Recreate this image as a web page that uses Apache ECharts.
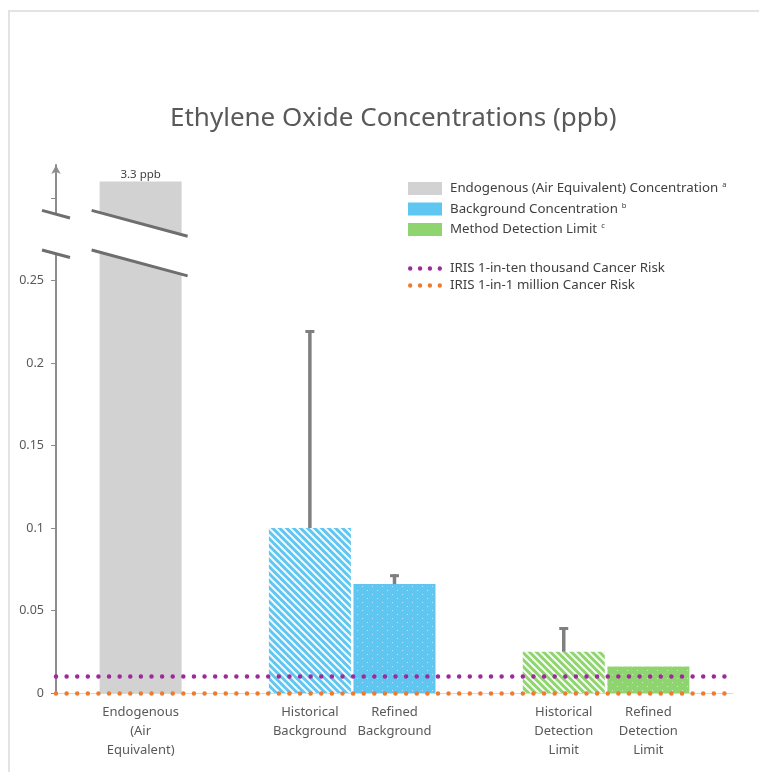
<!DOCTYPE html>
<html>
<head>
<meta charset="utf-8">
<script src="https://cdn.jsdelivr.net/npm/echarts@6/dist/echarts.min.js"></script>
</head>
<body style="margin:0;background:#fff">
<div id="container" style="width:759px;height:772px"></div>
<script>
// data (ppb)
var categories = ['', 'Endogenous\n(Air\nEquivalent)', '', 'Historical\nBackground', 'Refined\nBackground', '', 'Historical\nDetection\nLimit', 'Refined\nDetection\nLimit', ''];
var endogenous = [null, 3.3, null, null, null, null, null, null, null];
var background = [null, null, null, 0.1, 0.066, null, null, null, null];
var detection = [null, null, null, null, null, null, 0.025, 0.016, null];
var errorTop = [null, null, null, 0.22, 0.072, null, 0.04, null, null];
var iris1in10k = 0.011;
var iris1in1m = 0.0001;
var yTicks = [0, 0.05, 0.1, 0.15, 0.2, 0.25, 0.3];
var yLabels = [0, 0.05, 0.1, 0.15, 0.2, 0.25];
var breakTop = 0.31; // the endogenous bar is drawn cut off here (broken axis)

var GRAY = '#d2d2d2', BLUE = '#5fc6f1', GREEN = '#8fd56f';
var PURPLE = '#9c2a9a', ORANGE = '#ef7b30';

function stripes(color) {
    var c = document.createElement('canvas');
    c.width = 7; c.height = 7;
    var g = c.getContext('2d');
    g.fillStyle = color; g.fillRect(0, 0, 7, 7);
    g.strokeStyle = 'rgba(255,255,255,0.9)'; g.lineWidth = 2;
    for (var k = -1; k <= 1; k++) {
        g.beginPath(); g.moveTo(k * 7 - 1, -1); g.lineTo(k * 7 + 8, 8); g.stroke();
    }
    return { image: c, repeat: 'repeat' };
}
function dots(color) {
    var c = document.createElement('canvas');
    c.width = 10; c.height = 8;
    var g = c.getContext('2d');
    g.fillStyle = color; g.fillRect(0, 0, 10, 8);
    g.fillStyle = 'rgba(255,255,255,0.55)';
    g.fillRect(2, 2, 1, 1); g.fillRect(7, 6, 1, 1);
    return { image: c, repeat: 'repeat' };
}
function withPattern(values, color) {
    return values.map(function (v, i) {
        if (v == null) return null;
        var lab = categories[i];
        if (lab.indexOf('Historical') === 0) return { value: v, itemStyle: { color: stripes(color) } };
        if (lab.indexOf('Refined') === 0) return { value: v, itemStyle: { color: dots(color) } };
        return v;
    });
}
var errData = [];
errorTop.forEach(function (hi, i) {
    if (hi == null) return;
    var lo = background[i] != null ? background[i] : detection[i];
    errData.push([i, lo, hi]);
});

var sup = {
    'Endogenous (Air Equivalent) Concentration': 'a',
    'Background Concentration': 'b',
    'Method Detection Limit': 'c'
};
var dotIcon = 'path://M0,2a2,2 0 1,0 4,0a2,2 0 1,0 -4,0M9,2a2,2 0 1,0 4,0a2,2 0 1,0 -4,0M18,2a2,2 0 1,0 4,0a2,2 0 1,0 -4,0M27,2a2,2 0 1,0 4,0a2,2 0 1,0 -4,0';
var legendText = {
    color: '#404040', fontFamily: 'Noto Sans', fontSize: 13.3, padding: [0, 0, 0, 3],
    rich: {
        n: { color: '#404040', fontFamily: 'Noto Sans', fontSize: 13.3 },
        s: { color: '#404040', fontFamily: 'Noto Sans', fontSize: 7.5, padding: [0, 0, 7, 4] }
    }
};

var dom = document.getElementById('container');
var myChart = echarts.init(dom);
var option = {
    animation: false,
    title: {
        text: 'Ethylene Oxide Concentrations (ppb)',
        left: 165, top: 101,
        textStyle: { color: '#595959', fontFamily: 'Noto Sans', fontSize: 26, fontWeight: 'normal' }
    },
    legend: [{
        orient: 'vertical', left: 403, top: 176, itemWidth: 34, itemHeight: 13, itemGap: 6.5,
        icon: 'rect',
        data: ['Endogenous (Air Equivalent) Concentration', 'Background Concentration', 'Method Detection Limit'],
        formatter: function (name) { return '{n|' + name + '}{s|' + sup[name] + '}'; },
        textStyle: legendText, selectedMode: false
    }, {
        orient: 'vertical', left: 403, top: 257, itemWidth: 34, itemHeight: 5, itemGap: 4,
        data: [
            { name: 'IRIS 1-in-ten thousand Cancer Risk', icon: dotIcon, itemStyle: { color: PURPLE, borderWidth: 0 } },
            { name: 'IRIS 1-in-1 million Cancer Risk', icon: dotIcon, itemStyle: { color: ORANGE, borderWidth: 0 } }
        ],
        textStyle: { color: '#404040', fontFamily: 'Noto Sans', fontSize: 13.3, padding: [0, 0, 0, 3] },
        selectedMode: false
    }],
    grid: { left: 56, right: 26, top: 165, bottom: 79 },
    xAxis: {
        type: 'category', data: categories, boundaryGap: false,
        axisLine: { lineStyle: { color: '#d9d9d9', width: 1 } },
        axisTick: { show: false },
        axisLabel: { color: '#595959', fontFamily: 'Noto Sans', fontSize: 13, lineHeight: 19, margin: 10, interval: 0 }
    },
    yAxis: {
        type: 'value', min: 0, max: 0.32, interval: 0.05,
        splitLine: { show: false },
        axisLine: { show: true, symbol: ['none', 'arrow'], symbolSize: [7, 9], lineStyle: { color: '#8c8c8c', width: 2 } },
        axisTick: { show: true, length: 5, customValues: yTicks, lineStyle: { color: '#8c8c8c', width: 1 } },
        axisLabel: { customValues: yLabels, color: '#595959', fontFamily: 'Noto Sans', fontSize: 12.5, margin: 12 }
    },
    series: [{
        name: 'Endogenous (Air Equivalent) Concentration', type: 'bar', barWidth: 82, barGap: '-100%',
        itemStyle: { color: GRAY },
        data: endogenous.map(function (v) { return v == null ? null : Math.min(v, breakTop); }),
        label: {
            show: true, position: 'top', distance: 1, color: '#404040', fontFamily: 'Noto Sans', fontSize: 11.5,
            formatter: function (p) { return endogenous[p.dataIndex] + ' ppb'; }
        }
    }, {
        name: 'Background Concentration', type: 'bar', barWidth: 82, barGap: '-100%',
        itemStyle: { color: BLUE }, data: withPattern(background, BLUE)
    }, {
        name: 'Method Detection Limit', type: 'bar', barWidth: 82, barGap: '-100%',
        itemStyle: { color: GREEN }, data: withPattern(detection, GREEN)
    }, {
        type: 'custom', data: errData, z: 3,
        renderItem: function (params, api) {
            var p0 = api.coord([api.value(0), api.value(1)]);
            var p1 = api.coord([api.value(0), api.value(2)]);
            return { type: 'group', children: [
                { type: 'line', shape: { x1: p0[0], y1: p0[1], x2: p1[0], y2: p1[1] }, style: { stroke: '#7f7f7f', lineWidth: 3.5 } },
                { type: 'line', shape: { x1: p1[0] - 4.5, y1: p1[1] + 1.5, x2: p1[0] + 4.5, y2: p1[1] + 1.5 }, style: { stroke: '#7f7f7f', lineWidth: 3 } }
            ] };
        }
    }, {
        name: 'IRIS 1-in-ten thousand Cancer Risk', type: 'line', data: [], z: 4,
        itemStyle: { color: PURPLE },
        markLine: {
            silent: true, symbol: 'none', label: { show: false },
            lineStyle: { color: PURPLE, width: 4.5, type: [0.01, 10.6], cap: 'round' },
            data: [{ yAxis: iris1in10k }]
        }
    }, {
        name: 'IRIS 1-in-1 million Cancer Risk', type: 'line', data: [], z: 4,
        itemStyle: { color: ORANGE },
        markLine: {
            silent: true, symbol: 'none', label: { show: false },
            lineStyle: { color: ORANGE, width: 4.5, type: [0.01, 10.6], cap: 'round' },
            data: [{ yAxis: iris1in1m }]
        }
    }]
};
myChart.setOption(option);

// break marks on the axis and across the cut-off bar
var axisX = myChart.convertToPixel({ gridIndex: 0 }, [0, 0])[0];
var barX = myChart.convertToPixel({ gridIndex: 0 }, [1, 0])[0];
var yUp = myChart.convertToPixel({ gridIndex: 0 }, [0, 0.2925])[1];
var yLo = myChart.convertToPixel({ gridIndex: 0 }, [0, 0.2685])[1];
var slope = 0.27;
var pieces = [[axisX - 14, axisX + 14], [barX - 49, barX + 47]];
var marks = [{
    type: 'rect', silent: true, z: 0,
    shape: { x: 9, y: 11, width: 770, height: 780 },
    style: { fill: null, stroke: '#e3e3e3', lineWidth: 2 }
}];
pieces.forEach(function (pc) {
    var d = (pc[1] - pc[0]) * slope;
    marks.push({
        type: 'polygon', silent: true, z: 100,
        shape: { points: [[pc[0], yUp], [pc[1], yUp + d], [pc[1], yLo + d], [pc[0], yLo]] },
        style: { fill: '#fff' }
    });
    [yUp, yLo].forEach(function (y) {
        marks.push({
            type: 'line', silent: true, z: 101,
            shape: { x1: pc[0], y1: y, x2: pc[1], y2: y + d },
            style: { stroke: '#6e6e6e', lineWidth: 3 }
        });
    });
});
myChart.setOption({ graphic: marks });
</script>
</body>
</html>
